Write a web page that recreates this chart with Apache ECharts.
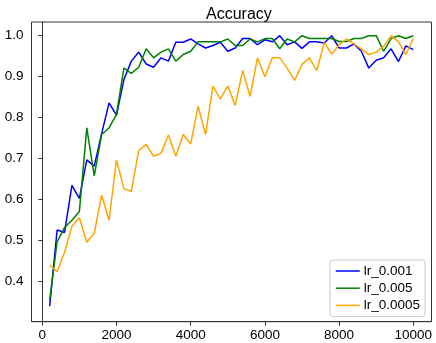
<!DOCTYPE html>
<html>
<head>
<meta charset="utf-8">
<script src="https://cdn.jsdelivr.net/npm/echarts@6/dist/echarts.min.js"></script>
<style>html,body{margin:0;padding:0;background:#fff;}#c{width:436px;height:343px;}</style>
</head>
<body>
<div id="c"></div>
<script>
const steps = [200,400,600,800,1000,1200,1400,1600,1800,2000,2200,2400,2600,2800,3000,3200,3400,3600,3800,4000,4200,4400,4600,4800,5000,5200,5400,5600,5800,6000,6200,6400,6600,6800,7000,7200,7400,7600,7800,8000,8200,8400,8600,8800,9000,9200,9400,9600,9800,10000];
const lr001 = [0.34,0.526,0.52,0.635,0.603,0.697,0.682,0.761,0.836,0.806,0.893,0.938,0.96,0.931,0.923,0.946,0.938,0.984,0.984,0.992,0.98,0.97,0.976,0.984,0.962,0.97,0.993,0.993,0.978,0.99,0.985,1.0,0.978,0.985,0.969,0.985,0.985,0.982,1.0,0.97,0.97,0.98,0.962,0.921,0.94,0.946,0.968,0.937,0.975,0.966];
const lr005 = [0.355,0.497,0.532,0.55,0.571,0.775,0.658,0.759,0.775,0.808,0.921,0.908,0.923,0.968,0.946,0.96,0.968,0.938,0.954,0.962,0.985,0.985,0.985,0.985,0.992,0.976,0.976,0.992,0.985,0.993,0.993,0.968,0.992,0.985,1.0,0.993,0.993,0.993,0.993,0.986,0.986,0.993,0.993,1.0,1.0,0.962,0.993,1.0,0.993,1.0];
const lr0005 = [0.44,0.425,0.471,0.535,0.556,0.496,0.518,0.611,0.55,0.697,0.627,0.62,0.72,0.735,0.706,0.713,0.758,0.706,0.759,0.736,0.828,0.759,0.877,0.845,0.877,0.83,0.915,0.852,0.946,0.9,0.946,0.946,0.921,0.891,0.93,0.946,0.915,0.983,0.955,0.978,0.992,0.98,0.968,0.954,0.96,0.974,1.0,0.985,0.954,0.993];
const xTicks = [0,2000,4000,6000,8000,10000];
const yTicks = [0.4,0.5,0.6,0.7,0.8,0.9,1.0];
const seriesNames = ['lr_0.001','lr_0.005','lr_0.0005'];
const seriesColors = ['#0000ff','#008000','#ffa500'];

const font = "'Liberation Sans', Arial, sans-serif";
const pair = arr => steps.map((s,i)=>[s,arr[i]]);
const chart = echarts.init(document.getElementById('c'), null, {renderer:'canvas'});
chart.setOption({
  animation:false,
  backgroundColor:'#fff',
  title:{text:'Accuracy',left:201,top:2,textStyle:{fontFamily:font,fontSize:16,fontWeight:'normal',color:'#000'}},
  grid:{left:31.5,right:4.5,top:22,bottom:21.3,show:true,borderColor:'#333',borderWidth:1,containLabel:false},
  legend:{orient:'vertical',left:330,top:260,itemWidth:24,itemHeight:14,itemGap:3.2,padding:[4,5,4,5],
    borderColor:'#c8c8c8',borderWidth:1,borderRadius:3,backgroundColor:'#fff',
    itemStyle:{opacity:0},lineStyle:{width:1.5},
    textStyle:{fontFamily:font,fontSize:13.5,color:'#000',padding:[0,0,0,-1]},
    data:seriesNames},
  xAxis:{type:'value',min:-290,max:10490,
    axisLine:{show:true,lineStyle:{color:'#333',width:1}},
    axisTick:{show:true,length:4,inside:false,customValues:xTicks,lineStyle:{color:'#333'}},
    axisLabel:{customValues:xTicks,margin:7,fontFamily:font,fontSize:13.5,color:'#000',formatter:v=>String(v)},
    splitLine:{show:false}},
  yAxis:{type:'value',min:0.3024,max:1.0334,
    axisLine:{show:true,lineStyle:{color:'#333',width:1}},
    axisTick:{show:true,length:4,inside:false,customValues:yTicks,lineStyle:{color:'#333'}},
    axisLabel:{customValues:yTicks,margin:8,fontFamily:font,fontSize:13.5,color:'#000',formatter:v=>v.toFixed(1)},
    splitLine:{show:false}},
  series:[lr001,lr005,lr0005].map((d,i)=>({
    name:seriesNames[i],type:'line',data:pair(d),symbol:'none',
    lineStyle:{color:seriesColors[i],width:1.5},itemStyle:{color:seriesColors[i]},z:2+i
  }))
});
</script>
</body>
</html>
